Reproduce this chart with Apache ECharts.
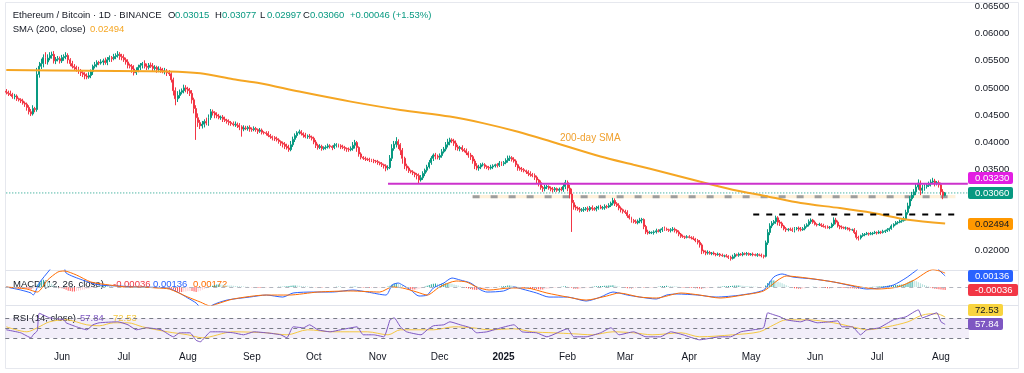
<!DOCTYPE html>
<html>
<head>
<meta charset="utf-8">
<script src="https://cdn.jsdelivr.net/npm/echarts@6/dist/echarts.min.js"></script>
<style>
html,body{margin:0;padding:0;background:#ffffff;}
#chart{width:1024px;height:373px;}
</style>
</head>
<body>
<div id="chart"></div>
<script>
// ---------------- DATA ----------------
const firstDate = '2024-05-05';          // first daily candle
const lastCategoryDate = '2025-08-14';   // right edge of the time scale (empty space after last bar)
const firstOpenE5 = 4940;                // open of first candle, in 1e-5 units

// daily closes, 1e-5 units (May 2024 ... Aug 2025)
const closesE5 = [].concat(
  [4920,4900,4880,4840,4850,4800,4780,4760,4720,4700,4640,4560,4520,4620,4600,5250,5400,5450,5560,5480,5550,5600,5620,5500,5530,5540,5500],
  [5560,5580,5600,5520,5450,5400,5380,5350,5300,5280,5250,5220,5200,5230,5300,5400,5430,5470,5460,5480,5500,5470,5520,5560,5540,5580,5600,5620,5580,5560],
  [5520,5480,5420,5400,5350,5280,5320,5380,5420,5450,5400,5380,5420,5400,5360,5380,5340,5350,5320,5300,5310,5280,5260,5150,4950,4800,4860,4920,4950,5000,4980],
  [4950,4900,4780,4620,4450,4360,4300,4330,4380,4350,4450,4560,4540,4500,4480,4450,4460,4420,4400,4380,4360,4340,4320,4330,4310,4280,4240,4260,4250,4270,4240],
  [4230,4250,4230,4200,4220,4180,4170,4160,4120,4100,4080,4060,4040,4010,3980,3960,3920,3890,3860,3950,4050,4120,4170,4190,4160,4130,4100,4110,4090,4070],
  [4000,3940,3900,3920,3880,3900,3910,3930,3920,3900,3940,3950,3930,3910,3900,3880,3870,3860,3880,3940,3990,3900,3780,3720,3700,3690,3680,3670,3660,3650,3640],
  [3620,3600,3580,3560,3520,3530,3700,3880,3960,4010,3950,3850,3700,3560,3520,3470,3450,3430,3400,3380,3300,3340,3420,3480,3540,3620,3700,3760,3740,3720],
  [3750,3820,3870,3950,4000,4040,4020,3980,3910,3880,3900,3860,3840,3800,3760,3730,3650,3560,3520,3540,3580,3580,3550,3530,3520,3540,3560,3580,3570,3610,3600],
  [3620,3660,3700,3710,3680,3650,3580,3520,3500,3490,3470,3450,3420,3400,3380,3350,3300,3250,3160,3140,3170,3180,3150,3130,3120,3140,3110,3130,3120,3180,3250],
  [3150,3040,2880,2800,2780,2760,2740,2750,2760,2770,2750,2790,2770,2760,2780,2800,2780,2790,2810,2800,2830,2870,2920,2860,2830,2780,2750,2720],
  [2700,2640,2600,2550,2530,2510,2540,2560,2570,2440,2340,2320,2330,2330,2340,2360,2350,2380,2400,2390,2380,2370,2380,2390,2370,2340,2300,2260,2250,2240,2250],
  [2240,2230,2210,2180,2150,2100,1990,1970,1950,1960,1940,1950,1930,1920,1930,1910,1900,1900,1890,1870,1850,1880,1920,1910,1930,1920,1940,1930,1940,1920],
  [1930,1920,1910,1920,1910,1900,1890,2140,2330,2450,2500,2530,2600,2520,2500,2450,2400,2380,2390,2380,2370,2400,2410,2390,2380,2400,2440,2470,2530,2560,2520],
  [2480,2470,2480,2460,2440,2430,2420,2430,2480,2560,2520,2450,2430,2420,2410,2410,2390,2380,2380,2330,2240,2230,2270,2290,2300,2310,2300,2310,2320,2330],
  [2320,2340,2330,2350,2360,2380,2400,2450,2480,2510,2520,2540,2550,2580,2700,2820,2950,3020,3080,3170,3240,3110,3150,3180,3200,3230,3260,3280,3240,3250,3210],
  [3080,3014,3060]
);
// upper wick above the body, 1e-5 units
const wickUpE5 = [].concat(
  [40,30,50,30,40,30,20,30,40,30,30,40,50,60,30,120,80,90,60,100,70,60,50,60,40,50,40],
  [50,40,60,40,30,50,40,30,40,50,30,40,50,60,40,30,50,40,30,50,40,60,50,40,30,50,40,60,40,50],
  [60,40,50,30,40,70,60,50,40,30,60,50,40,50,60,40,30,50,40,50,60,40,50,30,40,60,80,50,40,60,50],
  [40,50,60,40,60,80,50,60,40,70,60,50,40,30,50,40,30,40,50,30,40,30,40,50,30,40,30,50,40,30,40],
  [30,40,30,20,40,30,20,30,40,30,20,30,40,30,20,30,40,50,60,70,50,40,30,40,30,20,40,30,40,30],
  [30,40,30,40,30,20,30,40,30,20,40,30,20,30,40,30,20,30,40,60,50,30,20,30,20,30,20,30,20,30,20],
  [30,20,30,20,30,40,60,80,60,80,40,30,40,30,40,30,20,30,20,30,40,50,40,30,40,50,40,30,40,30],
  [40,50,40,50,60,40,30,40,50,40,30,40,30,40,30,40,30,40,50,40,30,40,30,20,30,40,30,20,30,40,30],
  [30,40,50,40,30,40,30,20,30,40,30,20,30,40,30,40,30,20,40,30,40,30,20,30,40,30,20,30,40,60,50],
  [40,60,100,50,40,30,40,30,40,30,40,30,40,30,40,30,40,30,40,30,40,30,50,40,30,40,30,20],
  [30,40,30,20,30,40,30,40,30,20,30,40,30,20,30,40,30,20,30,40,30,20,30,40,30,20,30,20,30,20,30],
  [30,20,30,20,30,40,30,20,30,40,30,20,30,20,30,20,30,20,30,20,30,40,30,20,30,20,30,20,30,20],
  [20,30,20,30,20,30,20,40,60,50,40,30,40,30,40,30,20,30,20,30,40,30,20,30,40,30,40,30,40,30,20],
  [30,20,30,20,30,20,30,20,30,50,40,30,20,30,20,30,20,30,20,30,40,30,20,30,20,30,20,30,20,30],
  [20,30,20,30,20,30,20,30,20,30,20,30,20,40,50,60,50,60,50,60,70,50,60,40,30,40,50,60,40,30,40],
  [40,50,17]
);
// lower wick below the body, 1e-5 units
const wickDnE5 = [].concat(
  [40,50,30,40,50,40,30,40,30,50,60,50,40,30,50,40,60,50,70,40,50,40,60,50,60,40,50],
  [40,60,50,70,50,40,60,50,40,60,50,60,40,30,50,60,40,50,40,30,60,40,50,40,60,30,50,40,60,50],
  [40,50,60,40,70,50,40,30,50,60,40,50,40,30,50,40,60,50,40,30,50,60,40,50,90,120,60,50,40,50,60],
  [60,50,70,90,410,80,60,50,60,40,50,40,50,60,40,30,40,50,30,40,50,40,30,40,50,60,140,40,30,40,50],
  [40,30,40,50,30,40,30,40,30,40,50,40,30,40,50,60,50,30,40,30,40,50,40,30,40,50,30,40,30,40],
  [40,50,40,30,40,30,40,30,40,50,30,40,30,40,30,40,50,40,30,40,60,80,50,40,30,40,30,40,30,40,30],
  [40,30,40,50,60,40,30,50,40,60,80,90,100,60,50,40,30,40,50,70,70,30,40,50,40,30,40,50,60,40],
  [50,40,30,40,50,60,40,50,60,40,50,40,30,40,50,60,50,60,40,50,40,30,40,30,40,30,40,30,40,30,40],
  [40,30,40,50,40,30,40,50,30,40,30,40,50,40,30,50,60,70,40,60,50,40,30,40,50,40,30,40,30,40,50],
  [60,80,540,50,40,30,40,30,40,30,40,30,40,30,40,30,20,30,40,30,20,30,40,40,30,40,50,40],
  [30,40,30,40,30,20,30,40,60,50,40,30,20,30,40,30,20,30,40,30,20,30,40,30,40,30,40,30,20,30,20],
  [20,30,20,30,40,50,60,30,40,30,20,30,20,30,20,30,20,30,20,30,40,20,30,20,30,20,30,20,30,20],
  [20,30,20,30,20,30,40,20,40,50,40,30,40,60,50,40,30,40,30,20,30,40,30,40,30,20,30,20,30,40,30],
  [20,30,20,30,20,30,20,30,20,30,40,30,40,30,20,30,20,30,20,30,40,50,30,20,30,20,30,20,30,20],
  [30,20,30,20,30,20,30,20,30,20,30,20,30,20,30,40,50,40,50,60,50,90,60,50,40,30,50,40,60,40,50],
  [60,70,17]
);
// 200-day SMA read at sparse days: [dayIndex, value 1e-5]
const smaPts = [[0,5330],[40,5315],[79,5305],[94,5270],[110,5160],[123,5087],[142,4932],[167,4747],[191,4594],[215,4470],[231,4350],[248,4190],[264,4010],[288,3733],[304,3580],[320,3430],[336,3270],[352,3120],[369,2995],[385,2873],[404,2780],[420,2688],[437,2565],[455,2494]];
// MACD line and signal line read at sparse days: [dayIndex, value 1e-5]
const macdPts = [[0,0],[7,-37],[12,-74],[13,-99],[16,49],[21,210],[25,330],[28,250],[29,173],[37,86],[45,25],[55,12],[63,0],[78,-12],[83,-62],[88,-136],[92,-198],[96,-300],[100,-222],[107,-161],[118,-124],[126,-99],[134,-124],[139,-74],[149,-62],[158,-62],[168,-37],[175,-62],[184,-99],[187,25],[190,49],[192,25],[196,-37],[200,-111],[204,-99],[207,-12],[212,49],[216,111],[220,86],[225,49],[230,-37],[233,-62],[241,-49],[246,0],[250,-25],[257,-74],[263,-124],[272,-124],[281,-173],[288,-124],[294,-62],[297,-74],[301,-99],[307,-124],[315,-148],[320,-99],[325,-86],[335,-99],[344,-124],[356,-99],[367,-37],[372,124],[376,161],[381,124],[391,99],[401,62],[410,12],[417,-25],[423,-12],[430,25],[436,111],[440,185],[446,290],[450,260],[453,185],[455,136]];
const signalPts = [[0,0],[10,-25],[15,-62],[20,86],[25,185],[28,198],[34,148],[41,62],[50,25],[59,0],[65,0],[73,-12],[79,-25],[88,-124],[94,-185],[99,-235],[102,-210],[110,-148],[126,-99],[137,-99],[151,-62],[167,-49],[181,-62],[187,0],[192,-12],[199,-62],[204,-99],[210,0],[218,74],[223,62],[228,0],[234,-37],[244,-12],[252,-12],[262,-74],[272,-124],[281,-161],[291,-111],[297,-74],[307,-124],[315,-136],[327,-74],[336,-99],[346,-136],[357,-99],[367,-49],[374,86],[378,136],[388,111],[401,62],[414,0],[422,-25],[432,0],[440,86],[446,185],[449,215],[452,200],[455,172]];
// MACD histogram, daily, 1e-5 units
const histE5 = [].concat(
  [-5,-8,-10,-12,-10,-12,-15,-15,-18,-20,-22,-25,-28,-20,-15,30,60,80,90,85,70,55,40,25,10,0,-10],
  [-15,-25,-35,-45,-50,-55,-55,-50,-45,-40,-35,-30,-25,-20,-15,-10,-5,0,5,8,10,12,10,8,6,4,2,0,-2,-4],
  [-6,-8,-10,-12,-10,-8,-5,-3,0,2,4,5,4,3,2,0,-2,-4,-6,-8,-10,-12,-15,-20,-30,-45,-55,-60,-60,-58,-55],
  [-50,-48,-50,-55,-60,-55,-45,-35,-25,-15,-5,5,15,25,30,32,30,28,25,22,20,18,16,14,12,10,8,5,3,2,0],
  [-2,-4,-6,-8,-8,-8,-6,-5,-4,-3,-2,-1,0,2,3,4,5,8,12,15,18,20,18,15,12,10,8,6,4,2],
  [0,-2,-4,-5,-5,-4,-3,-2,-1,0,1,2,2,2,1,0,-1,0,2,4,5,3,0,-3,-6,-8,-10,-10,-9,-8,-7],
  [-6,-5,-4,-3,-2,5,15,30,40,45,40,30,18,5,-8,-18,-25,-30,-32,-30,-25,-15,-5,5,15,25,35,40,42,40],
  [38,40,42,45,48,45,40,32,25,18,10,3,-5,-12,-18,-24,-30,-34,-36,-35,-32,-28,-24,-20,-16,-12,-8,-4,0,3,6],
  [10,14,18,20,18,14,8,2,-4,-8,-12,-14,-16,-18,-20,-22,-25,-28,-30,-30,-28,-24,-20,-16,-12,-8,-5,-2,2,5,8],
  [4,-2,-10,-20,-22,-22,-20,-18,-14,-10,-6,-2,2,5,8,10,12,14,15,16,18,20,22,18,12,6,0,-5],
  [-10,-14,-16,-18,-16,-12,-8,-4,-2,-6,-10,-12,-10,-8,-4,0,4,8,12,14,15,14,12,10,8,5,2,-2,-5,-8,-10],
  [-10,-10,-12,-14,-16,-18,-20,-18,-15,-12,-8,-5,-2,0,2,4,6,8,10,12,14,16,18,20,20,18,16,14,12,10],
  [8,6,4,2,0,-2,-3,20,50,70,80,80,75,65,55,45,35,22,10,0,-8,-14,-18,-20,-20,-18,-15,-10,-5,0,3],
  [2,0,-3,-6,-9,-12,-14,-15,-14,-10,-6,-5,-7,-10,-12,-13,-14,-15,-15,-18,-20,-22,-20,-16,-12,-8,-4,-1,2,4],
  [6,8,10,12,14,16,18,20,22,24,26,28,30,32,40,55,70,80,75,70,60,45,35,25,15,5,-5,-15,-20,-25,-28],
  [-30,-34,-36]
);
// RSI(14) and its moving average, read at sparse days: [dayIndex, value]
const rsiPts = [[0,47],[7,41],[12,31],[13,37],[15,45],[16,80],[21,71],[28,67],[29,61],[34,53],[39,47],[42,57],[45,61],[54,63],[59,57],[63,47],[68,51],[75,47],[81,33],[84,41],[89,41],[92,26],[94,23],[99,43],[104,43],[110,41],[115,37],[120,43],[126,41],[133,37],[136,31],[139,53],[144,51],[147,57],[151,47],[157,43],[162,47],[167,51],[170,53],[173,37],[178,37],[183,33],[186,67],[188,71],[191,53],[194,43],[201,37],[204,47],[207,55],[212,57],[215,63],[220,57],[225,51],[228,41],[233,43],[238,49],[246,57],[250,43],[257,41],[262,33],[272,49],[275,33],[281,33],[288,41],[293,51],[297,37],[304,43],[310,33],[317,33],[322,43],[328,37],[336,27],[346,33],[351,33],[356,43],[362,47],[367,51],[369,81],[372,77],[375,73],[378,67],[385,63],[388,67],[393,61],[399,63],[403,65],[405,53],[410,53],[414,37],[417,47],[423,51],[430,67],[436,73],[440,83],[442,87],[444,71],[448,77],[451,81],[453,63],[455,57.84]];
const rsiMaPts = [[0,53],[10,43],[15,51],[21,63],[29,67],[39,57],[45,55],[52,61],[59,61],[66,53],[78,43],[88,37],[95,31],[110,43],[126,41],[136,37],[146,47],[158,43],[175,43],[185,37],[191,47],[207,47],[217,53],[226,51],[234,47],[246,49],[255,43],[265,41],[275,39],[284,37],[294,43],[304,41],[313,37],[327,41],[336,33],[352,37],[365,43],[372,57],[378,67],[388,67],[401,61],[412,51],[417,47],[427,53],[437,63],[443,75],[448,79],[451,79],[455,72.53]];

// drawn levels
const resistance = {from: 185, to: 466, value: 0.0323};
const lastPrice = 0.0306;
const supportZone = {from: 226, to: 460, top: 0.0302, bottom: 0.0296, mid: 0.0299};
const rangeTop = {from: 362, to: 460, value: 0.0266};

// tick / tag labels
const priceTickMin = 0.015, priceAxisMax = 0.06624, priceTickStep = 0.005;
const monthNames = ['2025','Feb','Mar','Apr','May','Jun','Jul','Aug','Sep','Oct','Nov','Dec'];
const headerTitle = 'Ethereum / Bitcoin · 1D · BINANCE';
const headerOHLC = [['O','0.03015'],['H','0.03077'],['L','0.02997'],['C','0.03060']];
const headerChange = '+0.00046 (+1.53%)';
const smaLegend = ['SMA (200, close)', '0.02494'];
const macdLegend = ['MACD (12, 26, close)', '-0.00036', '0.00136', '0.00172'];
const rsiLegend = ['RSI (14, close)', '57.84', '72.53'];
const smaLastValue = 0.02494, macdLast = 136, histLast = -36, rsiLast = 57.84, rsiMaLast = 72.53;

// ---------------- BUILD ----------------
const FONT = '"Liberation Sans", Arial, sans-serif';
const C_UP = '#089981', C_DN = '#F23645', C_TXT = '#131722';

const cats = [];
(function(){
  let d = new Date(firstDate + 'T00:00:00Z');
  const end = new Date(lastCategoryDate + 'T00:00:00Z');
  while (d <= end) { cats.push(d.toISOString().slice(0,10)); d = new Date(d.getTime() + 86400000); }
})();

const candles = [];
let prevClose = firstOpenE5;
for (let i = 0; i < closesE5.length; i++) {
  const o = prevClose, c = closesE5[i];
  const hi = Math.max(o, c) + wickUpE5[i], lo = Math.min(o, c) - wickDnE5[i];
  candles.push([o/1e5, c/1e5, lo/1e5, hi/1e5]);
  prevClose = c;
}
const histData = histE5.map((v, i) => {
  const p = i > 0 ? histE5[i-1] : 0;
  let col;
  if (v >= 0) col = v >= p ? '#26A69A' : '#B2DFDB';
  else col = v <= p ? '#FF5252' : '#FFCDD2';
  return {value: v, itemStyle: {color: col}};
});

const PX = 879/426;                    // pixels per day
const GL = 62 - 27.5*PX;               // plot left
const GW = cats.length*PX;             // plot width

const chart = echarts.init(document.getElementById('chart'), null, {renderer: 'canvas'});

const option = {
  animation: false,
  backgroundColor: '#ffffff',
  textStyle: {fontFamily: FONT},
  grid: [
    {left: GL, width: GW, top: 0, height: 277.4, containLabel: false},
    {left: GL, width: GW, top: 270, height: 35, containLabel: false},
    {left: GL, width: GW, top: 305, height: 42, containLabel: false}
  ],
  xAxis: [
    {type: 'category', gridIndex: 0, data: cats, boundaryGap: true, show: false},
    {type: 'category', gridIndex: 1, data: cats, boundaryGap: true, show: false},
    {type: 'category', gridIndex: 2, data: cats, boundaryGap: true,
      axisLine: {show: false}, axisTick: {show: false}, splitLine: {show: false},
      axisLabel: {
        interval: (idx, val) => val.slice(8) === '01',
        formatter: (val) => { const m = +val.slice(5,7) - 1; return m === 0 ? '{b|' + val.slice(0,4) + '}' : monthNames[m]; },
        margin: 5, fontSize: 10, color: C_TXT, fontFamily: FONT,
        rich: {b: {fontWeight: 'bold', fontSize: 10, color: C_TXT, fontFamily: FONT}}
      }}
  ],
  yAxis: [
    {type: 'value', gridIndex: 0, position: 'right', min: priceTickMin, max: priceAxisMax, interval: priceTickStep,
      splitLine: {show: false}, axisLine: {show: false}, axisTick: {show: false},
      axisLabel: {margin: 6, fontSize: 9.5, color: C_TXT, fontFamily: FONT, showMinLabel: false, showMaxLabel: false,
        formatter: (v) => (v < 0.0199 || v > 0.0651) ? '' : v.toFixed(5)}},
    {type: 'value', gridIndex: 1, min: -222, max: 210, show: false},
    {type: 'value', gridIndex: 2, min: 12.6, max: 96.6, show: false}
  ],
  series: [
    {type: 'candlestick', xAxisIndex: 0, yAxisIndex: 0, data: candles, barWidth: '72%', z: 3,
      itemStyle: {color: C_UP, color0: C_DN, borderColor: C_UP, borderColor0: C_DN, borderWidth: 1},
      markArea: {silent: true, itemStyle: {color: 'rgba(255,183,77,0.20)'},
        data: [[{coord: [cats[supportZone.from], supportZone.top]}, {coord: [cats[supportZone.to], supportZone.bottom]}]]}
    },
    {type: 'line', xAxisIndex: 0, yAxisIndex: 0, data: smaPts.map(p => [p[0], p[1]/1e5]), symbol: 'none', smooth: 0.3,
      lineStyle: {color: '#F5A623', width: 2}, z: 4},
    {type: 'line', xAxisIndex: 0, yAxisIndex: 0, data: [[0, lastPrice], [cats.length-1, lastPrice]], symbol: 'none',
      lineStyle: {color: C_UP, width: 1, type: [1, 2]}, z: 2},
    {type: 'line', xAxisIndex: 0, yAxisIndex: 0, data: [[supportZone.from, supportZone.mid], [supportZone.to, supportZone.mid]], symbol: 'none',
      lineStyle: {color: '#9E9E9E', width: 3, type: [7, 11]}, z: 2},
    {type: 'line', xAxisIndex: 0, yAxisIndex: 0, data: [[rangeTop.from, rangeTop.value], [rangeTop.to, rangeTop.value]], symbol: 'none',
      lineStyle: {color: '#000000', width: 2, type: [6, 7]}, z: 5},
    {type: 'line', xAxisIndex: 0, yAxisIndex: 0, data: [[resistance.from, resistance.value], [resistance.to, resistance.value]], symbol: 'none',
      lineStyle: {color: '#CC33CC', width: 2}, z: 5},
    {type: 'bar', xAxisIndex: 1, yAxisIndex: 1, data: histData, barWidth: 1, z: 2,
      markLine: {silent: true, symbol: 'none', label: {show: false}, lineStyle: {color: '#B2B5BE', type: [4, 4], width: 1},
        data: [{yAxis: 0}]}},
    {type: 'line', xAxisIndex: 1, yAxisIndex: 1, data: macdPts, symbol: 'none', smooth: 0.25, lineStyle: {color: '#2962FF', width: 1}, z: 3},
    {type: 'line', xAxisIndex: 1, yAxisIndex: 1, data: signalPts, symbol: 'none', smooth: 0.25, lineStyle: {color: '#FF6D00', width: 1}, z: 3},
    {type: 'line', xAxisIndex: 2, yAxisIndex: 2, data: rsiMaPts, symbol: 'none', smooth: 0.3, lineStyle: {color: '#F5C842', width: 1}, z: 3,
      markArea: {silent: true, itemStyle: {color: 'rgba(126,87,194,0.10)'}, data: [[{yAxis: 70}, {yAxis: 30}]]},
      markLine: {silent: true, symbol: 'none', label: {show: false}, lineStyle: {color: '#787B86', type: [4, 4], width: 1},
        data: [{yAxis: 70}, {yAxis: 50}, {yAxis: 30}]}},
    {type: 'line', xAxisIndex: 2, yAxisIndex: 2, data: rsiPts, symbol: 'none', smooth: 0.15, lineStyle: {color: '#7E57C2', width: 1}, z: 4}
  ]
};
chart.setOption(option);

// ---------------- TEXT + TAGS ----------------
function txt(x, y, text, color, size, weight, z) {
  return {type: 'text', x: x, y: y, z: z || 1, silent: true,
    style: {text: text, fill: color, fontSize: size || 9.5, fontFamily: FONT, fontWeight: weight || 'normal', verticalAlign: 'middle', align: 'left'}};
}
function tag(yc, text, bg, fg, w) {
  return {type: 'group', x: 968, y: Math.round(yc) - 6, z: 100, silent: true, children: [
    {type: 'rect', z: 100, shape: {x: 0, y: 0, width: w, height: 12, r: 2}, style: {fill: bg}},
    {type: 'text', z: 101, x: 7, y: 6.5, style: {text: text, fill: fg, fontSize: 9.5, fontFamily: FONT, verticalAlign: 'middle', align: 'left'}}
  ]};
}
// keep the fixed tag in place, push the others away from it
function layoutTags(tags, gap) {
  const fixed = tags.find(t => t.fixed);
  tags.forEach(t => { t.yy = t.y; });
  const above = tags.filter(t => !t.fixed && t.y <= fixed.y).sort((a, b) => b.y - a.y);
  let lim = fixed.y;
  above.forEach(t => { t.yy = Math.min(t.y, lim - gap); lim = t.yy; });
  const below = tags.filter(t => !t.fixed && t.y > fixed.y).sort((a, b) => a.y - b.y);
  lim = fixed.y;
  below.forEach(t => { t.yy = Math.max(t.y, lim + gap); lim = t.yy; });
  return tags;
}
const py = (axis, v) => chart.convertToPixel({yAxisIndex: axis}, v);

const mainTags = layoutTags([
  {y: py(0, resistance.value), text: resistance.value.toFixed(5), bg: '#E31EE3', fg: '#ffffff', w: 45},
  {y: py(0, lastPrice), text: lastPrice.toFixed(5), bg: C_UP, fg: '#ffffff', w: 45, fixed: true},
  {y: py(0, smaLastValue), text: smaLastValue.toFixed(5), bg: '#FF9800', fg: C_TXT, w: 45}
], 14.8);
const macdTags = layoutTags([
  {y: py(1, macdLast), text: (macdLast/1e5).toFixed(5), bg: '#2962FF', fg: '#ffffff', w: 45, fixed: true},
  {y: py(1, histLast), text: (histLast/1e5).toFixed(5), bg: '#F23645', fg: '#ffffff', w: 50}
], 13.5);
const rsiTags = layoutTags([
  {y: py(2, rsiMaLast), text: rsiMaLast.toFixed(2), bg: '#F9D43F', fg: C_TXT, w: 35},
  {y: py(2, rsiLast), text: rsiLast.toFixed(2), bg: '#7E57C2', fg: '#ffffff', w: 35, fixed: true}
], 14);

const g = [];
// outer frame and pane separators
g.push({type: 'rect', z: 0, silent: true, shape: {x: 5.5, y: 2.5, width: 1013, height: 366}, style: {fill: null, stroke: '#E6E8EE', lineWidth: 1}});
[270.5, 305.5].forEach(y => g.push({type: 'line', z: 0, silent: true, shape: {x1: 5.5, y1: y, x2: 1018.5, y2: y}, style: {stroke: '#E0E3EB', lineWidth: 1}}));
// header
g.push(txt(12.7, 15, headerTitle, C_TXT, 9.5));
const ohlcX = [168, 215, 260, 303];
headerOHLC.forEach((p, i) => {
  g.push(txt(ohlcX[i], 15, p[0], C_TXT, 9.5));
  g.push(txt(ohlcX[i] + 7, 15, p[1], C_UP, 9.5));
});
g.push(txt(350, 15, headerChange, C_UP, 9.5));
g.push(txt(12.7, 29.5, smaLegend[0], C_TXT, 9.5));
g.push(txt(90, 29.5, smaLegend[1], '#F5A623', 9.5));
// annotation
g.push(txt(560, 138, '200-day SMA', '#F0A02E', 10));
// indicator legends
g.push(txt(13, 284, macdLegend[0], C_TXT, 9.5));
g.push(txt(113, 284, macdLegend[1], '#F23645', 9.5));
g.push(txt(153, 284, macdLegend[2], '#2962FF', 9.5));
g.push(txt(193, 284, macdLegend[3], '#FF6D00', 9.5));
g.push(txt(13, 318.5, rsiLegend[0], C_TXT, 9.5));
g.push(txt(80, 318.5, rsiLegend[1], '#7E57C2', 9.5));
g.push(txt(113, 318.5, rsiLegend[2], '#F5C842', 9.5));
// tags
[].concat(mainTags, macdTags, rsiTags).forEach(t => g.push(tag(t.yy, t.text, t.bg, t.fg, t.w)));

chart.setOption({graphic: {elements: g}});
</script>
</body>
</html>
